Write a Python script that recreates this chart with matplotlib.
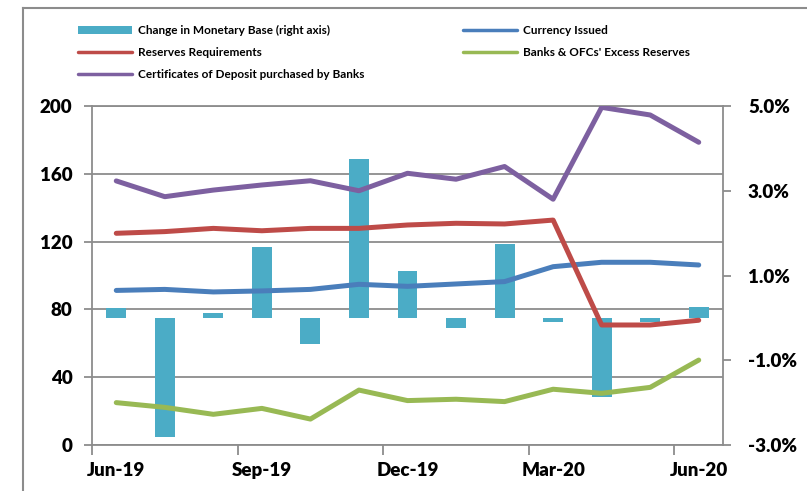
import matplotlib
matplotlib.use("Agg")
import matplotlib.pyplot as plt
from matplotlib.lines import Line2D

plt.rcParams['font.family'] = ['Lato', 'DejaVu Sans']

months = ["Jun-19", "Jul-19", "Aug-19", "Sep-19", "Oct-19", "Nov-19", "Dec-19",
          "Jan-20", "Feb-20", "Mar-20", "Apr-20", "May-20", "Jun-20"]
label_months = ["Jun-19", "Sep-19", "Dec-19", "Mar-20", "Jun-20"]

# change in monetary base, % (right axis)
monetary_base_change = [0.23, -2.82, 0.12, 1.68, -0.62, 3.76, 1.10,
                        -0.25, 1.74, -0.10, -1.86, -0.09, 0.26]
currency_issued = [91.2, 91.8, 90.3, 90.9, 91.8, 94.8, 93.6,
                   95.0, 96.4, 105.2, 107.8, 107.8, 106.2]
reserve_requirements = [124.9, 125.9, 127.8, 126.4, 127.8, 127.8, 129.8,
                        130.8, 130.4, 132.7, 70.8, 70.8, 73.6]
excess_reserves = [25.0, 22.2, 18.1, 21.6, 15.3, 32.4, 26.2,
                   27.0, 25.6, 32.9, 30.5, 34.0, 50.1]
certificates = [155.8, 146.5, 150.4, 153.4, 155.9, 150.0, 160.3,
                156.8, 164.3, 145.0, 199.2, 194.7, 178.6]

gray = '#8c8c8c'
W, H = 807, 491
x = list(range(len(months)))

fig = plt.figure(figsize=(W / 100, H / 100), dpi=100)
ax = fig.add_axes([92 / W, 46 / H, 631 / W, 339 / H])
ax.set_xlim(-0.5, len(months) - 0.5)
ax.set_ylim(0, 200)
ax.set_yticks(range(0, 201, 40))
ax.grid(axis='y', color=gray, lw=1.3)
ax.set_axisbelow(True)

# ticks at category edges, labels at category centres
ax.set_xticks([i - 0.5 for i in range(0, len(months), 3)])
ax.set_xticklabels([])
ax.set_xticks([months.index(m) for m in label_months], minor=True)
ax.set_xticklabels(label_months, minor=True)
ax.tick_params(axis='x', which='major', length=7, width=1.3, color=gray)
ax.tick_params(axis='x', which='minor', length=0, pad=12, labelsize=13.5)
ax.tick_params(axis='y', length=6, width=1.3, color=gray, labelsize=13.5, pad=8)
for lab in ax.get_xticklabels(minor=True) + ax.get_yticklabels():
    lab.set_fontweight('heavy')
for s in ['left', 'bottom', 'top']:
    ax.spines[s].set_color(gray)
    ax.spines[s].set_linewidth(1.3)
ax.spines['right'].set_visible(False)

# bars on the right axis
axr = ax.twinx()
axr.set_ylim(-3, 5)
axr.set_yticks([-3, -1, 1, 3, 5])
axr.yaxis.set_major_formatter(lambda v, p: f"{v:.1f}%")
bars = axr.bar(x, monetary_base_change, width=0.41, color='#4BACC6',
               label='Change in Monetary Base (right axis)')
axr.tick_params(axis='y', length=6, width=1.3, color=gray, labelsize=13.5, pad=12)
for lab in axr.get_yticklabels():
    lab.set_fontweight('heavy')
for s in ['left', 'bottom', 'top']:
    axr.spines[s].set_visible(False)
axr.spines['right'].set_color(gray)
axr.spines['right'].set_linewidth(1.3)

# lines on top, same scale as left axis
axl = ax.twinx()
axl.set_ylim(0, 200)
axl.yaxis.set_visible(False)
for s in axl.spines.values():
    s.set_visible(False)
lw = 3.6
style = dict(lw=lw, solid_capstyle='round', solid_joinstyle='round')
l_cur, = axl.plot(x, currency_issued, color='#4A7EBB', label='Currency Issued', **style)
l_res, = axl.plot(x, reserve_requirements, color='#BE4B48',
                  label='Reserves Requirements', **style)
l_exc, = axl.plot(x, excess_reserves, color='#98B954',
                  label="Banks & OFCs' Excess Reserves", **style)
l_cd, = axl.plot(x, certificates, color='#7D60A0',
                 label='Certificates of Deposit purchased by Banks', **style)

legend_kw = dict(frameon=False, loc='upper left', handlelength=4.6, handletextpad=0.5,
                 labelspacing=0.95, borderaxespad=0, borderpad=0,
                 prop={'size': 8.5, 'weight': 'bold'})
h1 = [bars, l_res, l_cd]
leg1 = fig.legend(handles=h1, labels=[h.get_label() for h in h1],
                  bbox_to_anchor=(78 / W, 1 - 25 / H), **legend_kw)
for ln in leg1.get_lines():
    ln.set_linewidth(2.5)
h2 = [l_cur, l_exc]
leg2 = fig.legend(handles=h2, labels=[h.get_label() for h in h2],
                  bbox_to_anchor=(463 / W, 1 - 25 / H), **legend_kw)
for ln in leg2.get_lines():
    ln.set_linewidth(2.5)

# chart area border
fig.add_artist(Line2D([23 / W, 23 / W], [0, 1 - 8 / H], color=gray, lw=1.5))
fig.add_artist(Line2D([23 / W, 1], [1 - 8 / H, 1 - 8 / H], color=gray, lw=1.5))

fig.savefig('out.png', dpi=100)
